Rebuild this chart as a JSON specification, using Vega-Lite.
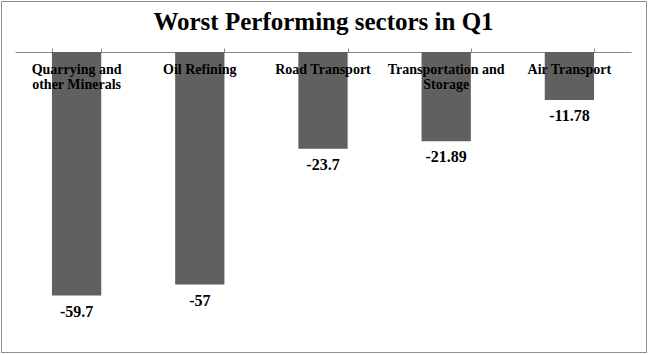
{
  "$schema": "https://vega.github.io/schema/vega-lite/v6.json",
  "width": 645,
  "height": 351,
  "autosize": {"type": "none"},
  "padding": {"left": 1, "top": 1, "right": 2, "bottom": 3},
  "background": "white",
  "title": {
    "text": "Worst Performing sectors in Q1",
    "font": "Liberation Serif",
    "fontSize": 25,
    "fontWeight": "bold",
    "color": "#000000",
    "anchor": "middle",
    "baseline": "alphabetic",
    "offset": 0,
    "dy": 54
  },
  "config": {
    "view": {"stroke": "#8c8c8c", "strokeWidth": 1},
    "font": "Liberation Serif"
  },
  "data": {
    "values": [
      {"sector": "Quarrying and other Minerals", "value": -59.7},
      {"sector": "Oil Refining", "value": -57},
      {"sector": "Road Transport", "value": -23.7},
      {"sector": "Transportation and Storage", "value": -21.89},
      {"sector": "Air Transport", "value": -11.78}
    ]
  },
  "encoding": {
    "x": {
      "field": "sector",
      "type": "nominal",
      "sort": null,
      "scale": {"range": [14, 630], "paddingInner": 0.6, "paddingOuter": 0.3}
    },
    "y": {
      "field": "value",
      "type": "quantitative",
      "scale": {"domain": [-60, 0], "range": [295.8, 51], "nice": false, "zero": true},
      "axis": null
    }
  },
  "layer": [
    {
      "mark": {"type": "bar", "color": "#606060"},
      "encoding": {
        "x": {
          "field": "sector",
          "type": "nominal",
          "sort": null,
          "axis": {
            "orient": "top",
            "offset": -51,
            "title": null,
            "labels": false,
            "ticks": true,
            "tickBand": "extent",
            "tickSize": 4,
            "tickColor": "#888888",
            "domainColor": "#888888",
            "domainWidth": 1,
            "grid": false
          }
        }
      }
    },
    {
      "mark": {
        "type": "text",
        "baseline": "middle",
        "dy": 16,
        "font": "Liberation Serif",
        "fontSize": 16,
        "fontWeight": "bold",
        "color": "#000000"
      },
      "encoding": {
        "x": {
          "field": "sector",
          "type": "nominal",
          "sort": null,
          "axis": {
            "orient": "bottom",
            "offset": -300,
            "zindex": 2,
            "title": null,
            "domain": false,
            "ticks": false,
            "tickSize": 0,
            "labelPadding": 10,
            "labelAngle": 0,
            "labelFont": "Liberation Serif",
            "labelFontSize": 14,
            "labelFontWeight": "bold",
            "labelColor": "#000000",
            "labelLimit": 200,
            "labelLineHeight": 15,
            "labelExpr": "datum.label == 'Quarrying and other Minerals' ? ['Quarrying and', 'other Minerals'] : datum.label == 'Transportation and Storage' ? ['Transportation and', 'Storage'] : datum.label",
            "grid": false
          }
        },
        "text": {"field": "value", "type": "nominal"}
      }
    }
  ],
  "resolve": {"axis": {"x": "independent"}}
}
